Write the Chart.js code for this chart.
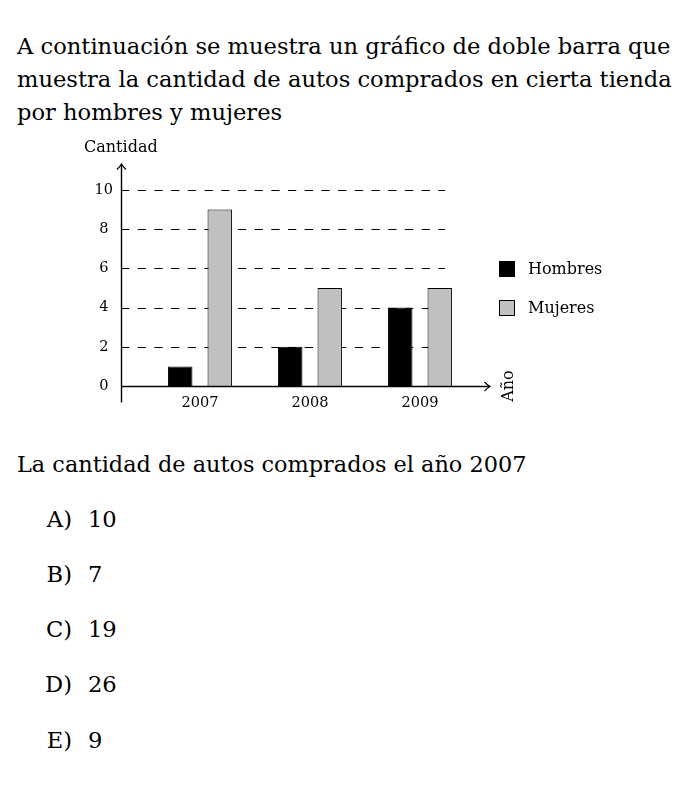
<!DOCTYPE html>
<html>
<head>
<meta charset="utf-8">
<script src="https://cdn.jsdelivr.net/npm/chart.js@4/dist/chart.umd.min.js"></script>
<style>
  html, body { margin:0; padding:0; background:#fff; }
  body { width:687px; height:793px; position:relative; overflow:hidden; font-family:"DejaVu Serif", serif; color:#000; }
  .t { position:absolute; white-space:nowrap; }
  #title { left:17px; top:30px; font-size:22.6px; line-height:33px; white-space:normal; width:680px; }
  #question { left:17px; top:448px; font-size:22.4px; line-height:33px; }
  .opt { position:absolute; font-size:22.6px; line-height:33px; }
  .opt .l { position:absolute; right:0; left:auto; width:60px; text-align:right; }
  #chartbox { position:absolute; left:0; top:130px; width:687px; height:300px; }
  #ytitle { left:84px; top:137px; font-size:16px; line-height:20px; }
  #xtitle { left:508px; top:386px; font-size:16px; line-height:20px; transform:translate(-50%,-50%) rotate(-90deg); }
  .lg { position:absolute; font-size:16px; line-height:20px; }
  .lg i { position:absolute; left:0; top:2px; width:14px; height:14px; border:1px solid #000; }
  .lg span { position:absolute; left:29px; top:0; white-space:nowrap; }
</style>
</head>
<body>
<div class="t" id="title">A continuación se muestra un gráfico de doble barra que muestra la cantidad de autos comprados en cierta tienda por hombres y mujeres</div>
<div id="chartbox"><canvas id="c" width="687" height="300"></canvas></div>
<div class="t" id="ytitle">Cantidad</div>
<div class="t" id="xtitle">Año</div>
<div id="legend"></div>
<div class="t" id="question">La cantidad de autos comprados el año 2007</div>
<div id="options"></div>
<script>
const years = ['2007', '2008', '2009'];
const hombres = [1, 2, 4];
const mujeres = [9, 5, 5];
const yTicks = [0, 2, 4, 6, 8, 10];
const seriesNames = ['Hombres', 'Mujeres'];
const seriesColors = ['#000000', '#c0c0c0'];
const optionLetters = ['A)', 'B)', 'C)', 'D)', 'E)'];
const optionValues = ['10', '7', '19', '26', '9'];

// legend (HTML)
const lg = document.getElementById('legend');
seriesNames.forEach((n, i) => {
  const d = document.createElement('div');
  d.className = 'lg';
  d.style.left = '499px';
  d.style.top = (259 + i * 39) + 'px';
  d.innerHTML = '<i style="background:' + seriesColors[i] + '"></i><span>' + n + '</span>';
  lg.appendChild(d);
});

// options
const op = document.getElementById('options');
optionLetters.forEach((l, i) => {
  const d = document.createElement('div');
  d.className = 'opt';
  d.style.left = '12px';
  d.style.top = (502.5 + i * 55.3) + 'px';
  d.style.width = '60px';
  d.innerHTML = '<span class="l">' + l + '</span><span style="position:absolute;left:76px;white-space:nowrap">' + optionValues[i] + '</span>';
  op.appendChild(d);
});

const axesPlugin = {
  id: 'axesPlugin',
  beforeDatasetsDraw(chart) {
    const { ctx, chartArea: a, scales: { y } } = chart;
    const x0 = a.left - 24, x1 = a.left + 300;
    ctx.save();
    ctx.strokeStyle = '#000';
    ctx.lineWidth = 1.1;
    ctx.setLineDash([8.3, 8.4]);
    yTicks.forEach(v => {
      if (v === 0) return;
      const py = Math.round(y.getPixelForValue(v)) + 0.5;
      ctx.beginPath(); ctx.moveTo(x0, py); ctx.lineTo(x1, py); ctx.stroke();
    });
    ctx.restore();
  },
  afterDatasetsDraw(chart) {
    const { ctx, chartArea: a, scales: { y } } = chart;
    const ax = a.left - 23.5;
    const ay = Math.round(y.getPixelForValue(0)) + 0.5;
    const top = a.top - 26, right = a.right + 15;
    ctx.save();
    ctx.strokeStyle = '#000';
    ctx.lineWidth = 1.4;
    ctx.setLineDash([]);
    ctx.beginPath();
    ctx.moveTo(ax, ay + 16); ctx.lineTo(ax, top);
    ctx.moveTo(ax, ay); ctx.lineTo(right, ay);
    ctx.stroke();
    ctx.lineWidth = 1.2;
    // arrow heads
    ctx.beginPath();
    ctx.moveTo(ax - 4.5, top + 5.5); ctx.quadraticCurveTo(ax - 1, top + 2, ax, top);
    ctx.quadraticCurveTo(ax + 1, top + 2, ax + 4.5, top + 5.5);
    ctx.moveTo(right - 5.5, ay - 4.5); ctx.quadraticCurveTo(right - 2, ay - 1, right, ay);
    ctx.quadraticCurveTo(right - 2, ay + 1, right - 5.5, ay + 4.5);
    ctx.stroke();
    ctx.restore();
  }
};

new Chart(document.getElementById('c'), {
  type: 'bar',
  data: {
    labels: years,
    datasets: [
      { label: seriesNames[0], data: hombres, backgroundColor: seriesColors[0], borderColor: '#000', borderWidth: 1 },
      { label: seriesNames[1], data: mujeres, backgroundColor: seriesColors[1], borderColor: '#000', borderWidth: 1 }
    ]
  },
  options: {
    responsive: false,
    animation: false,
    layout: { padding: { top: 60, right: 212, left: 0, bottom: 0 } },
    plugins: { legend: { display: false }, tooltip: { enabled: false } },
    categoryPercentage: 0.72,
    barPercentage: 0.62,
    scales: {
      x: {
        grid: { display: false, drawTicks: false },
        border: { display: false },
        ticks: { color: '#000', font: { family: 'DejaVu Serif', size: 14.5 }, padding: 9 },
        afterFit(s) { s.height = 44; }
      },
      y: {
        min: 0, max: 10,
        grid: { display: false, drawTicks: false },
        border: { display: false },
        afterBuildTicks(s) { s.ticks = yTicks.map(v => ({ value: v })); },
        ticks: { color: '#000', font: { family: 'DejaVu Serif', size: 14.5 }, padding: 32, crossAlign: 'center' },
        afterFit(s) { s.width = 145; }
      }
    }
  },
  plugins: [axesPlugin]
});
</script>
</body>
</html>
